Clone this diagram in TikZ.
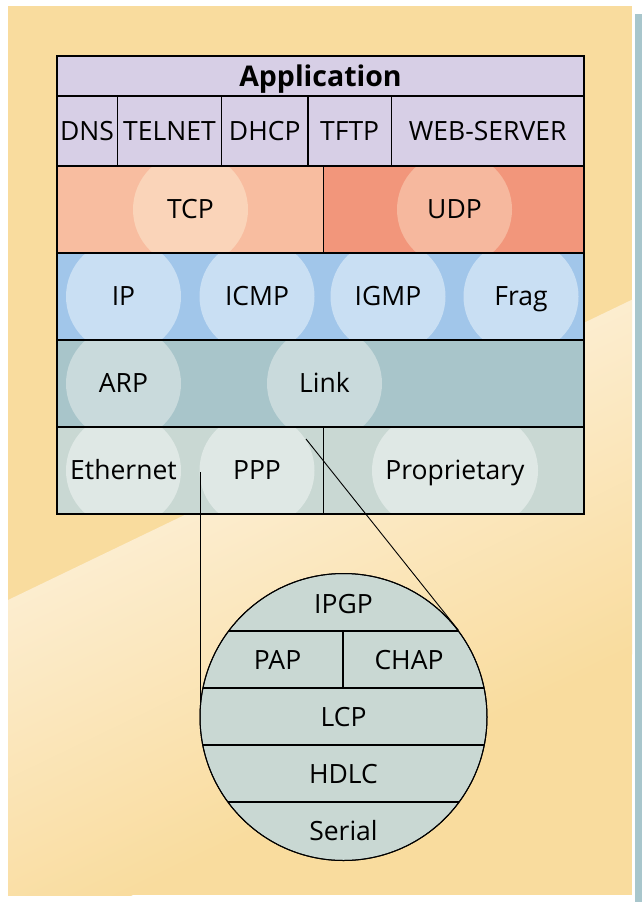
\documentclass[tikz,border=0pt]{standalone}
\usepackage{fontspec}
\setmainfont{Open Sans}
\usepackage{tikz}
\usetikzlibrary{shapes.misc}
\definecolor{bgorange}{HTML}{F9DC9E}
\definecolor{bandlight}{HTML}{FCEDCF}
\definecolor{edgeblue}{HTML}{A8C6CC}
\definecolor{approw}{HTML}{D7CFE6}
\definecolor{tcprow}{HTML}{F8BDA0}
\definecolor{tcpbub}{HTML}{FAD4B9}
\definecolor{udprow}{HTML}{F2967B}
\definecolor{udpbub}{HTML}{F6B89E}
\definecolor{iprow}{HTML}{A1C6EA}
\definecolor{ipbub}{HTML}{C9DFF3}
\definecolor{arprow}{HTML}{A8C5CA}
\definecolor{arpbub}{HTML}{C9DADC}
\definecolor{ethrow}{HTML}{C9D8D3}
\definecolor{ethbub}{HTML}{DFE8E5}
\tikzstyle{layer}=[draw=black, line width=1.1pt]
\tikzstyle{wire}=[draw=black, line width=0.9pt]
\tikzstyle{lbl}=[font=\fontsize{26.5}{31}\selectfont, text height=18.9pt, text depth=0pt, inner sep=0pt]
\tikzstyle{bubble}=[lbl, circle, minimum size=115pt]

\begin{document}
\begin{tikzpicture}[x=1pt, y=-1pt]
    \useasboundingbox (0,0) rectangle (642,902);
    \fill[white] (0,0) rectangle (642,902);
    \fill[bgorange] (8,6) rectangle (632,895);
    \fill[edgeblue] (635,14) rectangle (642,902);
    % light band across the panel
    \begin{scope}
        \clip (8,6) rectangle (632,895);
        \begin{scope}[transform canvas={shift={(8,600)}, rotate=25.7}]
            \shade[top color=bandlight, bottom color=bgorange] (-200,0) rectangle (900,320);
        \end{scope}
    \end{scope}

    % application layer
    \fill[approw] (57,56) rectangle (584,166);
    \node[lbl, font=\fontsize{28.5}{33}\selectfont\bfseries, text height=20.3pt] (app) at (320.5,76) {Application};
    \node[lbl] (dns)    at (87,131)    {DNS};
    \node[lbl] (telnet) at (169.5,131) {TELNET};
    \node[lbl] (dhcp)   at (264.7,131) {DHCP};
    \node[lbl] (tftp)   at (349.7,131) {TFTP};
    \node[lbl] (web)    at (487.7,131) {WEB-SERVER};

    % transport
    \fill[tcprow] (57,166) rectangle (323.5,253);
    \fill[udprow] (323.5,166) rectangle (584,253);
    \begin{scope}
        \clip (57,166) rectangle (584,253);
        \node[bubble, fill=tcpbub] (tcp) at (190.5,209.5) {TCP};
        \node[bubble, fill=udpbub] (udp) at (454.5,209.5) {UDP};
    \end{scope}

    % network
    \fill[iprow] (57,253) rectangle (584,340);
    \begin{scope}
        \clip (57,253) rectangle (584,340);
        \node[bubble, fill=ipbub] (ip)   at (123.5,296.5) {IP};
        \node[bubble, fill=ipbub] (icmp) at (257,296.5)   {ICMP};
        \node[bubble, fill=ipbub] (igmp) at (388,296.5)   {IGMP};
        \node[bubble, fill=ipbub] (frag) at (521,296.5)   {Frag};
    \end{scope}

    \fill[arprow] (57,340) rectangle (584,427);
    \begin{scope}
        \clip (57,340) rectangle (584,427);
        \node[bubble, fill=arpbub] (arp)  at (123.5,383.5) {ARP};
        \node[bubble, fill=arpbub] (link) at (324.5,383.5) {Link};
    \end{scope}

    % link layer
    \fill[ethrow] (57,427) rectangle (584,514);
    \begin{scope}
        \clip (57,427) rectangle (584,514);
        \node[bubble, fill=ethbub] (eth) at (123.5,470.5) {Ethernet};
        \node[bubble, fill=ethbub] (ppp) at (257,470.5)   {PPP};
        \node[lbl, rounded rectangle, fill=ethbub, minimum width=166pt, minimum height=115pt] (prop) at (455,470.5) {Proprietary};
    \end{scope}

    % grid
    \draw[layer] (57,56) rectangle (584,514);
    \foreach \yy in {96,166,253,340,427}
        \draw[layer] (57,\yy) -- (584,\yy);
    \foreach \xx in {117.5,221.5,308,391.5}
        \draw[layer] (\xx,96) -- (\xx,166);
    \draw[layer] (323.5,166) -- (323.5,253);
    \draw[layer] (323.5,427) -- (323.5,514);

    % PPP close-up
    \node[circle, draw=black, line width=1pt, fill=ethrow, minimum size=287pt, inner sep=0pt] (pppzoom) at (343.5,717) {};
    \begin{scope}
        \clip (pppzoom.center) circle (143.5);
        \foreach \yy in {631,688,745,802}
            \draw[layer] (190,\yy) -- (500,\yy);
        \draw[layer] (343,631) -- (343,688);
    \end{scope}
    \draw[black, line width=1pt] (pppzoom.center) circle (143.5);
    \node[lbl] (ipgp)   at (343.5,604) {IPGP};
    \node[lbl] (pap)    at (277.5,660) {PAP};
    \node[lbl] (chap)   at (409,660)   {CHAP};
    \node[lbl] (lcp)    at (343.5,717) {LCP};
    \node[lbl] (hdlc)   at (343.5,774) {HDLC};
    \node[lbl] (serial) at (343.5,831) {Serial};

    \coordinate (ppptap)  at (200,472);
    \coordinate (linktap) at (306,439);
    \draw[wire] (ppptap) -- (ppptap |- pppzoom.174);
    \draw[wire] (linktap) -- (pppzoom.37);
\end{tikzpicture}
\end{document}
